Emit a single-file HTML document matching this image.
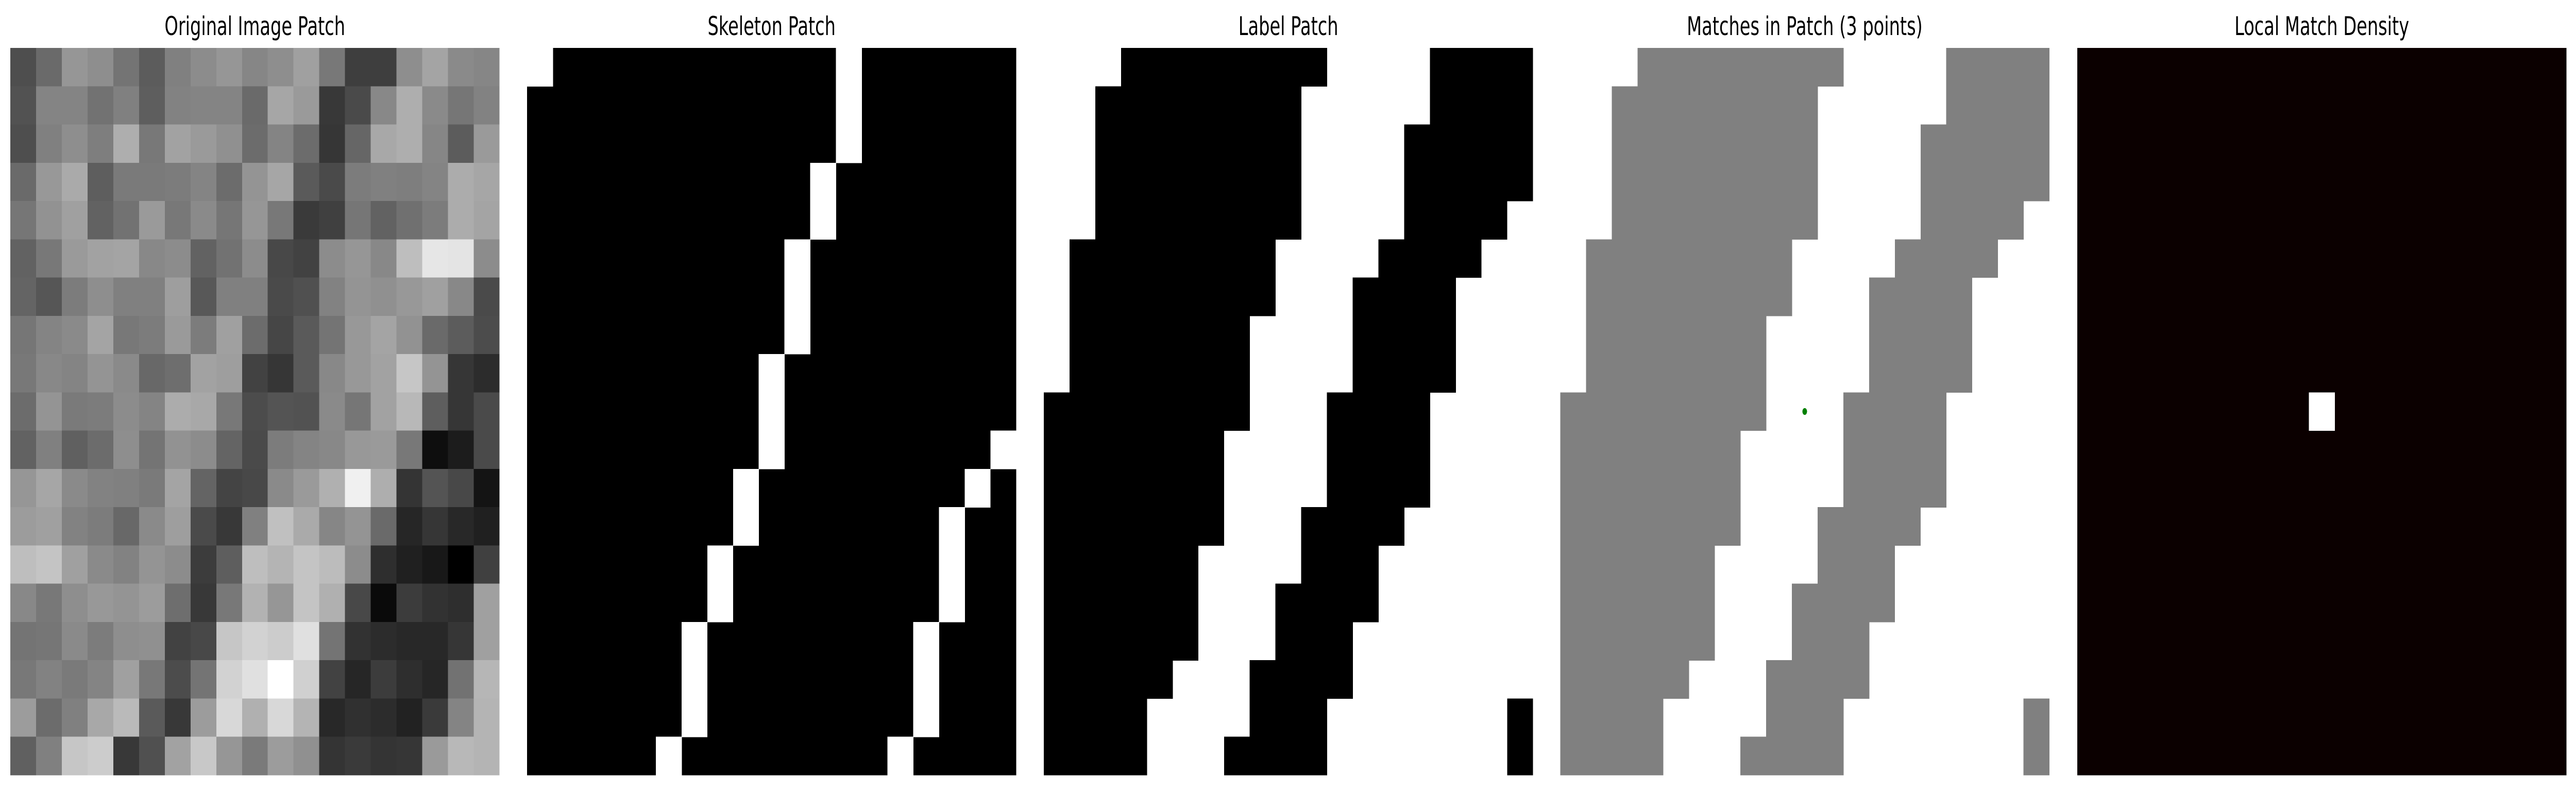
<!DOCTYPE html>
<html><head><meta charset="utf-8"><title>Patch Analysis</title>
<style>
html,body{margin:0;padding:0;background:#fff;width:100%;height:100%;overflow:hidden;}
svg{display:block;width:100vw;height:100vh;}
text{font-family:"DejaVu Sans","Liberation Sans",sans-serif;font-size:50px;fill:#000;}
</style></head>
<body>
<svg id="fig" viewBox="0 0 7433 1533" preserveAspectRatio="none" xmlns="http://www.w3.org/2000/svg" shape-rendering="crispEdges"></svg>
<script>
// ---- data ----
const panelTitles = ["Original Image Patch","Skeleton Patch","Label Patch","Matches in Patch (3 points)","Local Match Density"];
const originalGray = [
"4e6a968e745c808c96868ea0783e3e8ea48a86",
"52848472805e8284846aa69a384a88ae8a7682",
"4e808e7eae78a29a906c846c3666a8ae865c9a",
"6a98aa5e7a7a7c846c94a65a4a7c807e84aca6",
"7692a062729a788a7696783a407662707caca4",
"62789aa2a4888c62728c48428c9688bee6e48c",
"64567c8e80809e5880804a5082949098a0884a",
"76848aa4787c9a7ca06c465a7498a4926a5c4c",
"788884948a686ea29e42365a8898a2c694362c",
"6c947a7c8c84aca8784c54528a76a2b85e364a",
"6280606c8e74928c644a7c8488989a780e1c4a",
"96a68a82807aa46444488a9ab0f0ae34544814",
"9ca0827c688a9e4a3880c0aa86946a26362820",
"bec4a08a82948c3c5ebeb4c4bc8c2e20180040",
"88788e98949c6e3878b296c4b0480a3c322ea0",
"74768a7c8e904248c6d2cce074322c282836a0",
"78827a84a0784c74d2e0ffd042263c2e2672b6",
"9c6c80a8ba5a389cd8b0d8b428302c223a84b4",
"6080c6cc3850a2c8967a9c90343a34369ab8b4"
];
const skeletonCells = [[0,0],[0,12],[1,12],[2,12],[3,11],[4,11],[5,10],[6,10],[7,10],[8,9],[9,9],[10,9],[11,8],[12,8],[13,7],[14,7],[15,6],[16,6],[17,6],[18,5],
[10,18],[11,17],[12,16],[13,16],[14,16],[15,15],[16,15],[17,15],[18,14]];
const labelRuns = [
[[3,11],[15,19]],
[[2,10],[15,19]],
[[2,10],[14,19]],
[[2,10],[14,19]],
[[2,10],[14,18]],
[[1,9],[13,17]],
[[1,9],[12,16]],
[[1,8],[12,16]],
[[1,8],[12,16]],
[[0,8],[11,15]],
[[0,7],[11,15]],
[[0,7],[11,15]],
[[0,7],[10,14]],
[[0,6],[10,13]],
[[0,6],[9,13]],
[[0,6],[9,12]],
[[0,5],[8,12]],
[[0,4],[8,11],[18,19]],
[[0,4],[7,11],[18,19]]
];
const matchX = [9,9,9];
const matchY = [9,9,9];
const densityCells = [[9,9]];

// ---- layout ----
const N = 19;
const panelLeft = [30,1521,3012,4502,5994];
const panelTop = 93;
const panelSize = 1411;
const cell = panelSize / N;
const NS = "http://www.w3.org/2000/svg";
const svg = document.getElementById('fig');

function sx(p, c){ return panelLeft[p] + c*cell; }
function sy(r){ return panelTop + r*cell; }

function mk(tag, attrs, parent){
  const e = document.createElementNS(NS, tag);
  for (const k in attrs) e.setAttribute(k, attrs[k]);
  parent.appendChild(e);
  return e;
}
function rect(g, p, c, r, w, h, fill){
  return mk('rect', {x:sx(p,c), y:sy(r), width:w*cell+0.6, height:h*cell+0.6, fill:fill}, g);
}

const groups = [];
for (let p=0;p<5;p++){
  const g = mk('g', {}, svg);
  
  
  const t = mk('text', {x: panelLeft[p] + panelSize/2, y: 68, 'text-anchor':'middle'}, g);
  t.textContent = panelTitles[p];
  
  
  groups.push(g);
}

for (let r=0;r<N;r++){
  const s = originalGray[r].replace(/[^0-9a-f]/g,'');
  for (let c=0;c<N;c++){
    let v = parseInt(s.substr(c*2,2),16);
    if (isNaN(v)) v = 128;
    const e = rect(groups[0], 0, c, r, 1, 1, `rgb(${v},${v},${v})`);
    
    
  }
}

const bg2 = rect(groups[1], 1, 0, 0, N, N, '#000');


skeletonCells.forEach(([r,c])=>{
  const e = rect(groups[1], 1, c, r, 1, 1, '#fff');
  
  
});

labelRuns.forEach((runs, r)=>{
  runs.forEach(([a,b])=>{
    const e = rect(groups[2], 2, a, r, b-a, 1, '#000');
    
    
    const e2 = rect(groups[3], 3, a, r, b-a, 1, '#808080');
    
    
  });
});
for (let i=0;i<matchX.length;i++){
  const d = mk('circle', {cx: sx(3, matchX[i]+0.5), cy: sy(matchY[i]+0.5), r: 6.5, fill:'#008000', 'shape-rendering':'auto'}, groups[3]);
  
  
}

const bg5 = rect(groups[4], 4, 0, 0, N, N, '#0b0000');


densityCells.forEach(([r,c])=>{
  const e = rect(groups[4], 4, c, r, 1, 1, '#fff');
  
  
});
</script>
</body></html>
